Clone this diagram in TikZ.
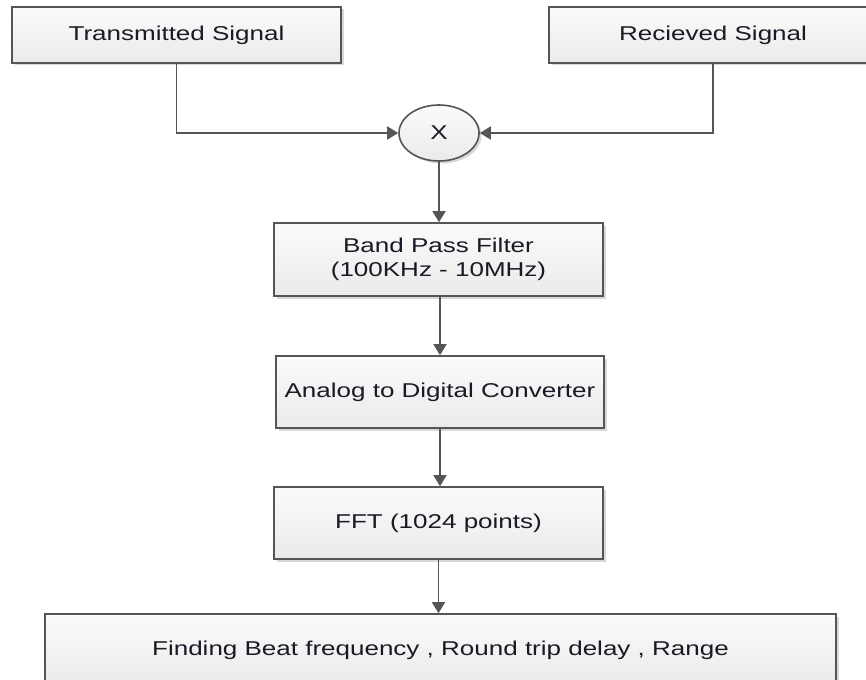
\documentclass[tikz,border=0pt]{standalone}
\usepackage{fontspec}
\setmainfont[FakeStretch=1.3]{Liberation Sans}
\usetikzlibrary{positioning,arrows.meta,shapes.geometric,shadows}
\definecolor{mLine}{HTML}{555555}
\definecolor{mText}{HTML}{1A1A26}
\definecolor{mTop}{HTML}{FBFBFB}
\definecolor{mBot}{HTML}{EAEAEA}

\begin{document}
\begin{tikzpicture}[x=1pt,y=-1pt,
  blk/.style={draw=mLine, line width=1.6pt, top color=mTop, bottom color=mBot,
    text=mText, align=center, inner sep=0pt,
    drop shadow={shadow xshift=2.5pt, shadow yshift=-2.5pt, opacity=0.3}},
  link/.style={draw=mLine, line width=1.8pt},
  flow/.style={link, -{Triangle[width=13pt,length=11pt]}}]
\fontsize{20}{24}\selectfont
\clip (0,0) rectangle (866,679);
\fill[white] (0,0) rectangle (866,679);

\node[blk, minimum width=329pt, minimum height=56pt] (tx) at (176.5,35) {Transmitted Signal};
\node[blk, minimum width=328pt, minimum height=56pt] (rx) at (713,35) {Recieved Signal};
\node[blk, ellipse, minimum width=80pt, minimum height=56pt] (mix) at (439,133) {X};

\node[blk, minimum width=329pt, minimum height=73pt] (bpf) at (438.5,259.5) {Band Pass Filter\\(100KHz - 10MHz)};
\node[blk, minimum width=328pt, minimum height=72pt] (adc) at (440,392) {Analog to Digital Converter};
\node[blk, minimum width=329pt, minimum height=72pt] (fft) at (438.5,523) {FFT (1024 points)};
\node[blk, minimum width=791pt, minimum height=72pt] (out) at (440.5,650) {Finding Beat frequency , Round trip delay , Range};

\draw[flow] (tx.south) |- (mix.west);
\draw[flow] (rx.south) |- (mix.east);
\draw[flow] (mix.south) -- (bpf.north -| mix.south);
\draw[flow] (bpf.south -| adc.north) -- (adc.north);
\draw[flow] (adc.south) -- (fft.north -| adc.south);
\draw[flow] (fft.south) -- (out.north -| fft.south);
\end{tikzpicture}
\end{document}
